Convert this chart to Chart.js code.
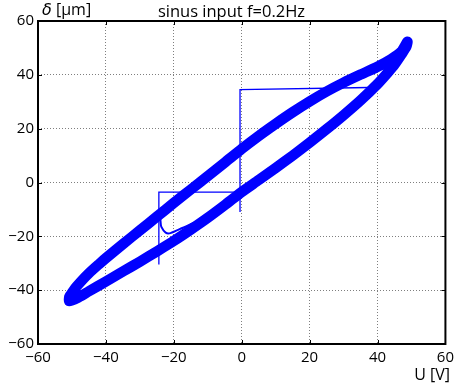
<!DOCTYPE html>
<html>
<head>
<meta charset="utf-8">
<script src="https://cdn.jsdelivr.net/npm/chart.js@4/dist/chart.umd.min.js"></script>
<style>
  html, body { margin: 0; padding: 0; background: #fff; }
  #wrap { width: 459px; height: 390px; }
</style>
</head>
<body>
<div id="wrap"><canvas id="hystChart" width="459" height="390"></canvas></div>
<script>
// Hysteresis loop: upper branch up to the tip, then lower branch back down
const loopU = [-50.8, -49, -47, -45, -42, -40, -35, -30, -25, -20, -15, -10, -5, 0, 5, 10, 15, 20, 25, 30, 35, 40, 44, 47, 48.8,
               48.5, 47, 45, 43, 40, 35, 30, 25, 20, 15, 10, 5, 0, -5, -10, -15, -20, -25, -30, -35, -40, -45, -48, -50.8, -50.8];
const loopD = [-42.5, -39.2, -36.3, -33.7, -30.3, -28.1, -22.9, -17.8, -12.7, -7.6, -2.6, 2.4, 7.4, 12.5, 17.3, 21.8, 26.1, 30.1, 33.8, 37.1, 40.1, 43.0, 45.8, 48.6, 52.3,
               50.5, 47.5, 43.8, 40.8, 36.6, 30.5, 25.0, 19.8, 14.8, 10.0, 5.4, 0.9, -3.5, -8.4, -13.1, -17.5, -21.7, -25.6, -29.4, -33.1, -36.8, -40.4, -42.6, -44, -42.5];

// thin step path at start-up
const stepU = [-24.4, -24.4, -0.5, -0.5, -0.5, 37.5];
const stepD = [-30.5, -3.6, -3.6, -11, 34.5, 35.3];

// small transient spike near U=-24
const spikeU = [-24.1, -23.9, -23.7, -22.4, -21, -17.5, -14.1];
const spikeD = [-11.4, -14.5, -16.4, -18.6, -18.8, -16.9, -14.9];

const tickValues = [-60, -40, -20, 0, 20, 40, 60];

const toPoints = (xs, ys) => xs.map((x, i) => ({ x: x, y: ys[i] }));
const minus = v => String(v).replace('-', '\u2212');

const FONT = '"Open Sans", "DejaVu Sans", sans-serif';

// frame, inward tick marks and text labels
const framePlugin = {
    id: 'frame',
    afterDraw(chart) {
        const { ctx, chartArea: a, scales } = chart;
        ctx.save();
        ctx.strokeStyle = '#000';
        ctx.lineWidth = 1;
        ctx.beginPath();
        tickValues.forEach(v => {
            const px = Math.round(scales.x.getPixelForValue(v)) + 0.5;
            ctx.moveTo(px, a.top); ctx.lineTo(px, a.top + 4);
            ctx.moveTo(px, a.bottom); ctx.lineTo(px, a.bottom - 4);
            const py = Math.round(scales.y.getPixelForValue(v)) + 0.5;
            ctx.moveTo(a.left, py); ctx.lineTo(a.left + 4, py);
            ctx.moveTo(a.right, py); ctx.lineTo(a.right - 4, py);
        });
        ctx.stroke();

        ctx.lineWidth = 2;
        ctx.strokeRect(a.left, a.top, a.right - a.left, a.bottom - a.top);

        ctx.fillStyle = '#000';
        ctx.textBaseline = 'alphabetic';
        ctx.textAlign = 'center';
        ctx.font = '16.5px ' + FONT;
        ctx.fillText('sinus input f=0.2Hz', 231.5, 17);

        ctx.textAlign = 'left';
        ctx.font = 'italic 16px "DejaVu Sans", sans-serif';
        ctx.fillText('\u03b4', 42, 15);
        const w = ctx.measureText('\u03b4').width;
        ctx.font = '16px ' + FONT;
        ctx.fillText(' [\u00b5m]', 42 + w, 15);

        ctx.textAlign = 'right';
        ctx.font = '16px ' + FONT;
        ctx.fillText('U [V]', 450, 380);
        ctx.restore();
    }
};

new Chart(document.getElementById('hystChart'), {
    type: 'scatter',
    data: {
        datasets: [{
            data: toPoints(loopU, loopD),
            showLine: true,
            borderColor: '#0000ff',
            borderWidth: 10.5,
            borderJoinStyle: 'round',
            borderCapStyle: 'round',
            pointRadius: 0,
            tension: 0.2
        }, {
            data: toPoints(stepU, stepD),
            showLine: true,
            borderColor: '#0000ff',
            borderWidth: 1.3,
            pointRadius: 0,
            tension: 0
        }, {
            data: toPoints(spikeU, spikeD),
            showLine: true,
            borderColor: '#0000ff',
            borderWidth: 2,
            pointRadius: 0,
            tension: 0.3
        }]
    },
    options: {
        responsive: false,
        animation: false,
        layout: { padding: { top: 21, right: 11, left: 0, bottom: 0 } },
        plugins: {
            legend: { display: false },
            tooltip: { enabled: false }
        },
        scales: {
            x: {
                type: 'linear',
                min: -60, max: 60,
                afterFit: s => { s.height = 46; },
                afterBuildTicks: s => { s.ticks = tickValues.map(v => ({ value: v })); },
                grid: { color: 'rgba(0,0,0,0.5)', lineWidth: 1, drawTicks: false },
                border: { display: false, dash: [1, 2] },
                ticks: {
                    padding: 5,
                    color: '#000',
                    font: { family: FONT, size: 15 },
                    callback: v => minus(v)
                }
            },
            y: {
                type: 'linear',
                min: -60, max: 60,
                afterFit: s => { s.width = 38; },
                afterBuildTicks: s => { s.ticks = tickValues.map(v => ({ value: v })); },
                grid: { color: 'rgba(0,0,0,0.5)', lineWidth: 1, drawTicks: false },
                border: { display: false, dash: [1, 2] },
                ticks: {
                    padding: 4,
                    color: '#000',
                    font: { family: FONT, size: 15 },
                    callback: v => minus(v)
                }
            }
        }
    },
    plugins: [framePlugin]
});
</script>
</body>
</html>
